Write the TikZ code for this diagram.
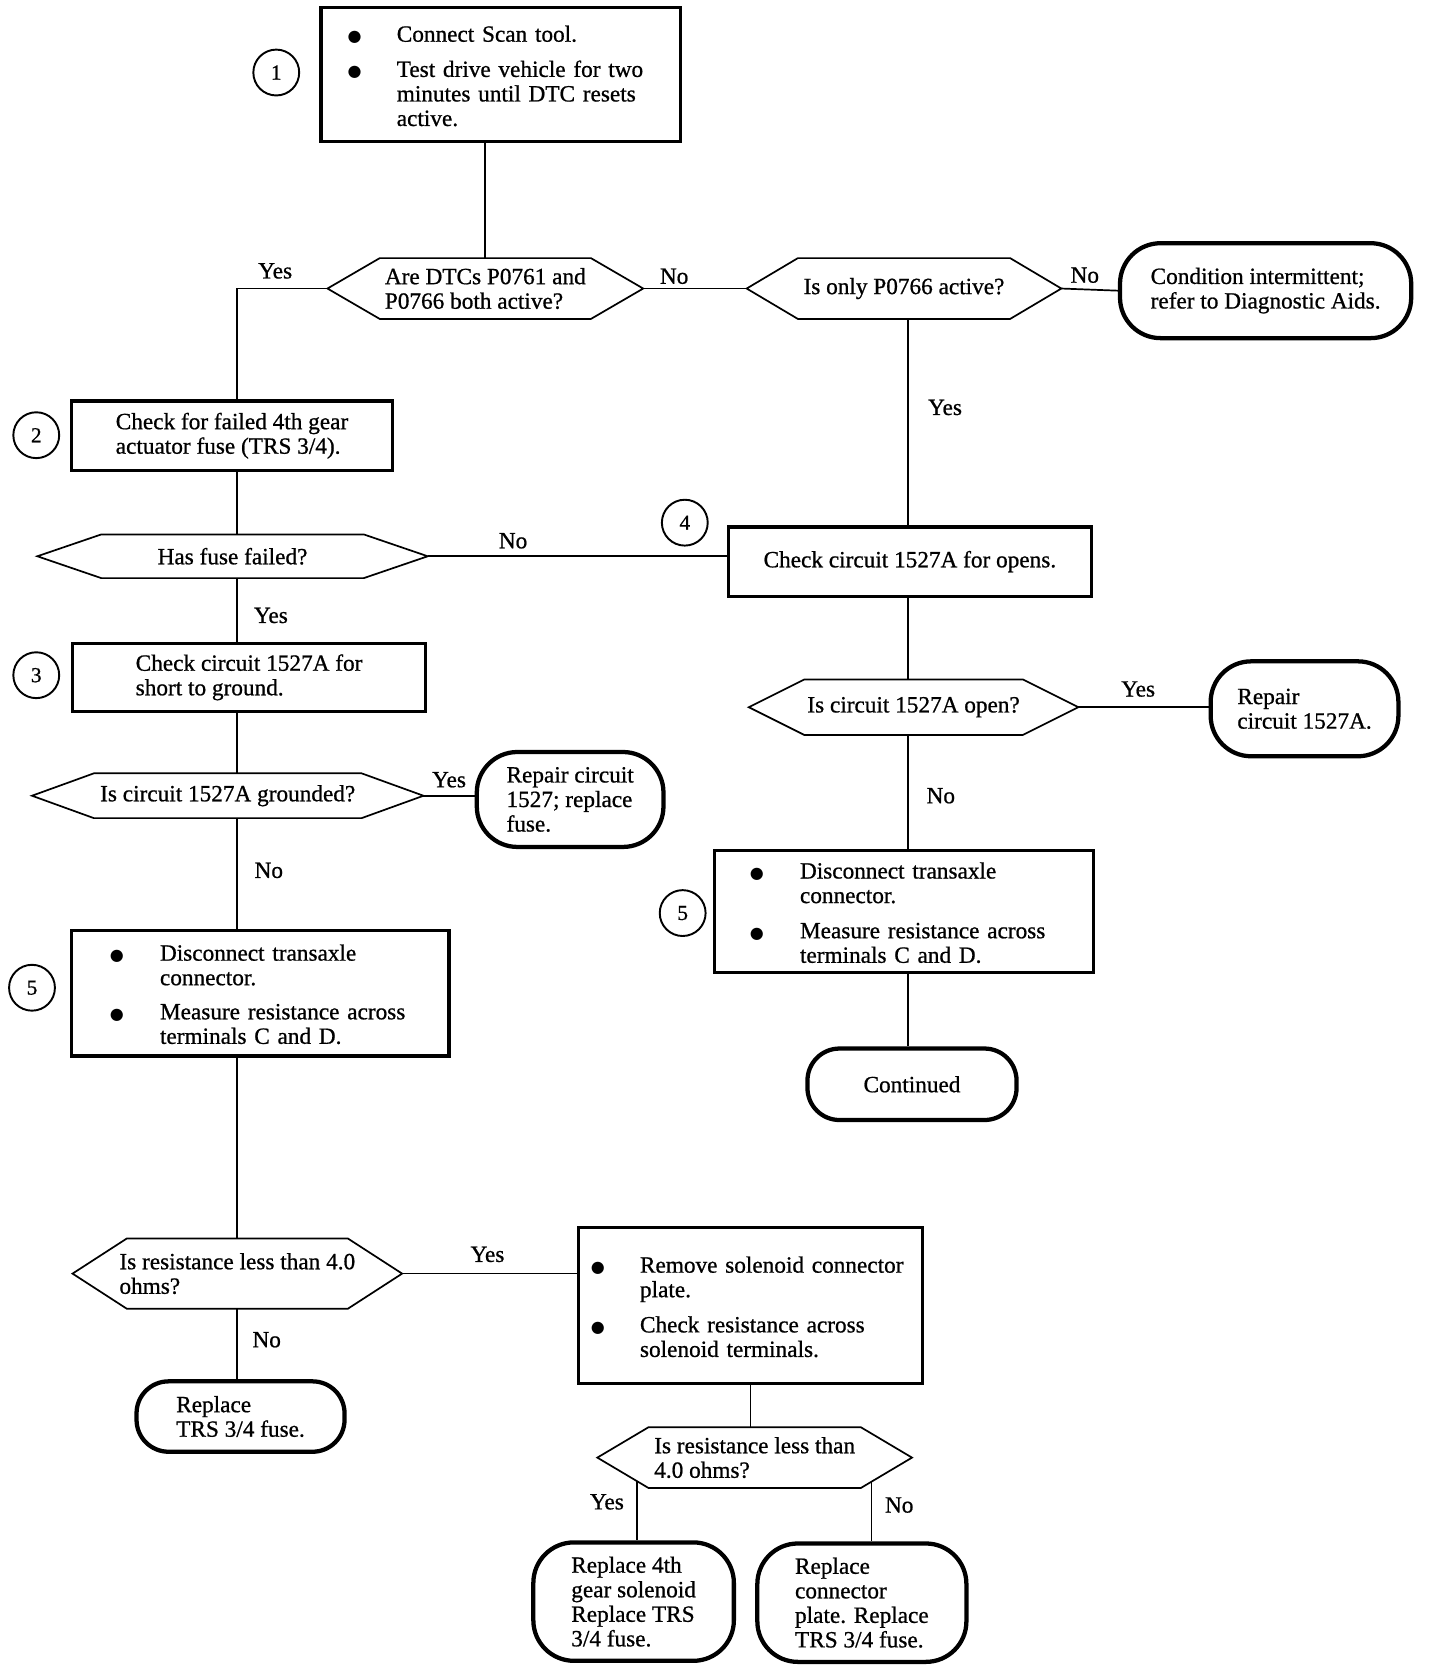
\documentclass[tikz,border=0pt]{standalone}
\usepackage{fontspec}
\setmainfont{Liberation Serif}[UprightFeatures={FakeBold=0.8}]
\newfontfamily\symfont{DejaVu Sans}
\usetikzlibrary{calc}
\newcommand{\hexa}[2]{%
  \draw[hexline] (#1.west) -- ([xshift=#2]#1.north west) -- ([xshift=-#2]#1.north east)
    -- (#1.east) -- ([xshift=-#2]#1.south east) -- ([xshift=#2]#1.south west) -- cycle;}
\newcommand{\bul}{{\symfont\fontsize{15}{23}\selectfont ●}}
\newcommand{\lowered}[1]{\raisebox{-4pt}[\height][\depth]{#1}}

\begin{document}
\begin{tikzpicture}
[
x=1pt, y=-1pt,
every node/.style={font=\fontsize{21.8}{23}\selectfont},
stepbox/.style={draw, line width=3pt, inner ysep=0pt},
endbox/.style 2 args={draw, line width=4pt, rounded corners=38pt, align=left, minimum width=#1, minimum height=#2},
query/.style 2 args={inner sep=0pt, outer sep=0pt, minimum width=#1, minimum height=#2},
hexline/.style={line width=1.6pt, line join=miter},
link/.style={line width=1.6pt},
num/.style={draw, circle, line width=1.8pt, minimum size=43pt, inner sep=0pt, font=\fontsize{20}{20}\selectfont},
answer/.style={inner sep=1pt},
]
\useasboundingbox (0,0) rectangle (1350,1567.5);
\fill[white] (0,0) rectangle (1350,1567.5);

%Place the nodes
\node[stepbox, text width=287pt, inner xsep=25pt, minimum height=126pt] (b1) at (469.5,70) {%
\lowered{\begin{tabular}{@{}p{46pt}@{}l@{}}
\bul & Connect Scan tool.\\[10pt]
\bul & Test drive vehicle for two\\
     & minutes until DTC resets\\
     & active.
\end{tabular}}};
\node[query={296pt}{57pt}, align=left] (d1) at (455,270.5) {Are DTCs P0761 and\\P0766 both active?};
\node[query={295pt}{57pt}] (d2) at (847.5,270.5) {Is only P0766 active?};
\node[endbox={273pt}{89pt}] (t1) at (1186.5,272.5) {Condition intermittent;\\refer to Diagnostic Aids.};
\node[stepbox, minimum width=301pt, minimum height=65pt, align=left] (b2) at (217.5,408.5) {Check for failed 4th gear\\actuator fuse (TRS 3/4).};
\node[query={366pt}{41pt}] (d3) at (218,521.5) {Has fuse failed?};
\node[stepbox, minimum width=340pt, minimum height=65pt, align=center] (b4) at (853,526.5) {Check circuit 1527A for opens.};
\node[stepbox, minimum width=331pt, minimum height=64pt, align=left] (b3) at (233.5,635) {Check circuit 1527A for\\short to ground.};
\node[query={309pt}{52pt}] (d7) at (856.5,663) {Is circuit 1527A open?};
\node[endbox={176pt}{89pt}] (t6) at (1223,664.5) {Repair\\circuit 1527A.};
\node[query={367pt}{42pt}] (d4) at (213.5,746) {Is circuit 1527A grounded?};
\node[endbox={175pt}{89pt}] (t2) at (534.5,749.5) {Repair circuit\\1527; replace\\fuse.};
\node[stepbox, text width=289pt, inner xsep=33pt, minimum height=115pt] (b5b) at (847.5,854.5) {%
\lowered{\begin{tabular}{@{}p{47pt}@{}l@{}}
\bul & Disconnect transaxle\\
     & connector.\\[10pt]
\bul & Measure resistance across\\
     & terminals C and D.
\end{tabular}}};
\node[stepbox, text width=282pt, inner xsep=36pt, minimum height=118pt] (b5a) at (244,931) {%
\lowered{\begin{tabular}{@{}p{47pt}@{}l@{}}
\bul & Disconnect transaxle\\
     & connector.\\[9pt]
\bul & Measure resistance across\\
     & terminals C and D.
\end{tabular}}};
\node[endbox={196pt}{67pt}, rounded corners=30pt] (t7) at (855,1016.5) {Continued};
\node[query={309pt}{66pt}, align=left] (d5) at (222.5,1194) {Is resistance less than 4.0\\ohms?};
\node[stepbox, text width=299pt, inner xsep=12pt, minimum height=146pt] (b6) at (703.5,1224) {%
\lowered{\begin{tabular}{@{}p{46pt}@{}l@{}}
\bul & Remove solenoid connector\\
     & plate.\\[10pt]
\bul & Check resistance across\\
     & solenoid terminals.
\end{tabular}}};
\node[endbox={195pt}{66pt}, rounded corners=30pt] (t3) at (225.5,1328) {Replace\\TRS 3/4 fuse.};
\node[query={295pt}{57pt}, align=left] (d6) at (707.5,1366.5) {Is resistance less than\\4.0 ohms?};
\node[endbox={188pt}{111pt}] (t4) at (594,1501.5) {Replace 4th\\gear solenoid\\Replace TRS\\3/4 fuse.};
\node[endbox={196pt}{111pt}] (t5) at (808,1502.5) {Replace\\connector\\plate. Replace\\TRS 3/4 fuse.};

%Hexagons round the questions
\hexa{d1}{49pt}
\hexa{d2}{48pt}
\hexa{d3}{60pt}
\hexa{d4}{58pt}
\hexa{d5}{51pt}
\hexa{d6}{48pt}
\hexa{d7}{52pt}

%Step numbers
\node[num] (c1) at (259,68) {1};
\node[num] (c2) at (34,408) {2};
\node[num] (c3) at (34,633) {3};
\node[num] (c4) at (642,490) {4};
\node[num] (c5a) at (30,926) {5};
\node[num] (c5b) at (640,856) {5};

%Answers
\node[answer] (yes1) at (258,254) {Yes};
\node[answer] (no1) at (632,259) {No};
\node[answer] (no2) at (1017,258) {No};
\node[answer] (yes2) at (886,382) {Yes};
\node[answer] (no3) at (481,507) {No};
\node[answer] (yes3) at (254,577) {Yes};
\node[answer] (yes4) at (421,731) {Yes};
\node[answer] (no4) at (252,816) {No};
\node[answer] (yes7) at (1067,646) {Yes};
\node[answer] (no7) at (882,746) {No};
\node[answer] (yes5) at (457,1176) {Yes};
\node[answer] (no5) at (250,1256) {No};
\node[answer] (yes6) at (569,1408) {Yes};
\node[answer] (no6) at (843,1411) {No};

%Draw the connections
\coordinate (colL) at (222,0);
\coordinate (colR) at (851,0);
\coordinate (fromyes6) at ($(d6.west)!0.77!([xshift=48pt]d6.south west)$);
\coordinate (fromno6) at ($(d6.east)!0.79!([xshift=-48pt]d6.south east)$);
\draw[link] (d1.north |- b1.south) -- (d1.north);
\draw[link] (d1.west) -| (colL |- b2.north);
\draw[link] (d1.east) -- (d2.west);
\draw[link] (d2.east) -- (t1.west);
\draw[link] (colR |- d2.south) -- (colR |- b4.north);
\draw[link] (colL |- b2.south) -- (colL |- d3.north);
\draw[link] (d3.east) -- (d3.east -| b4.west);
\draw[link] (colL |- d3.south) -- (colL |- b3.north);
\draw[link] (colL |- b3.south) -- (colL |- d4.north);
\draw[link] (d4.east) -- (d4.east -| t2.west);
\draw[link] (colL |- d4.south) -- (colL |- b5a.north);
\draw[link] (colL |- b5a.south) -- (colL |- d5.north);
\draw[link] (d5.east) -- (d5.east -| b6.west);
\draw[link] (colL |- d5.south) -- (colL |- t3.north);
\draw[link] (b6.south) -- (b6.south |- d6.north);
\draw[link] (fromyes6) -- (fromyes6 |- t4.north);
\draw[link] (fromno6) -- (fromno6 |- t5.north);
\draw[link] (colR |- b4.south) -- (colR |- d7.north);
\draw[link] (d7.east) -- (d7.east -| t6.west);
\draw[link] (colR |- d7.south) -- (colR |- b5b.north);
\draw[link] (colR |- b5b.south) -- (colR |- t7.north);
\end{tikzpicture}
\end{document}
